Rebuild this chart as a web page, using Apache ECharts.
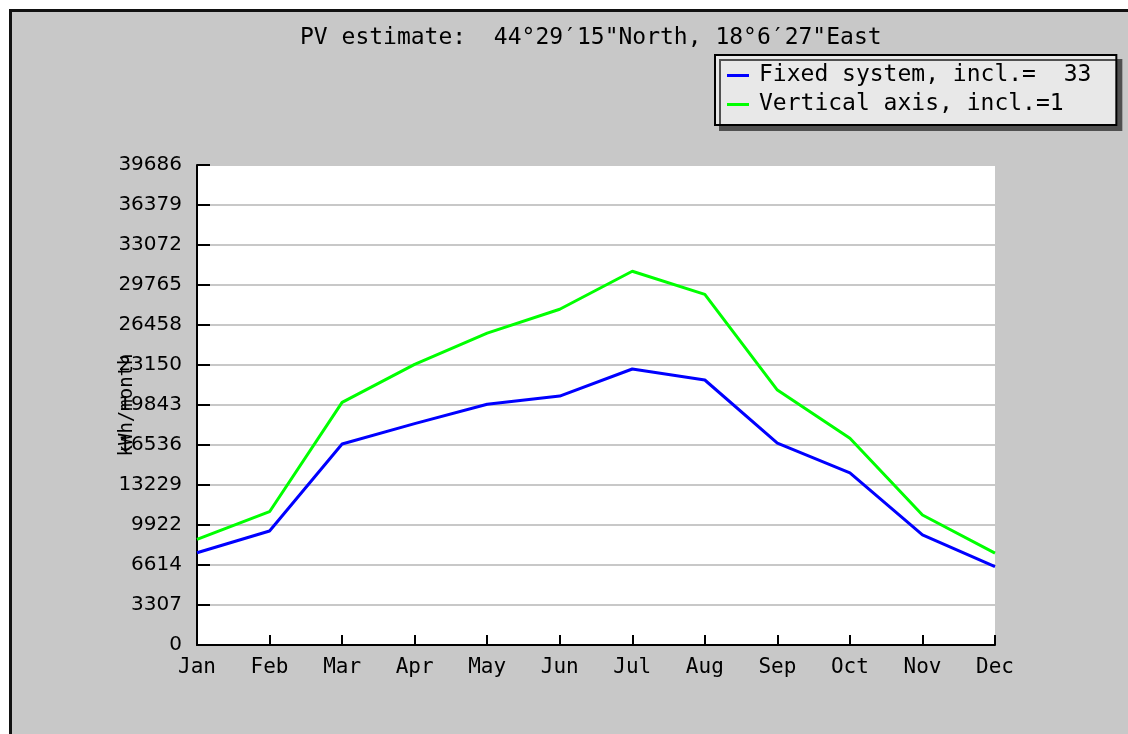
<!DOCTYPE html>
<html>
<head>
<meta charset="utf-8">
<script src="https://cdn.jsdelivr.net/npm/echarts@6/dist/echarts.min.js"></script>
<style>
html,body{margin:0;padding:0;background:#fff;}
#chart{width:1128px;height:734px;}
</style>
</head>
<body>
<div id="chart"></div>
<script>
const months = ['Jan','Feb','Mar','Apr','May','Jun','Jul','Aug','Sep','Oct','Nov','Dec'];
const fixedSystem = [7630, 9430, 16620, 18300, 19900, 20580, 22820, 21910, 16700, 14240, 9100, 6470];
const verticalAxis = [8740, 11020, 20060, 23200, 25780, 27760, 30900, 28990, 21080, 17100, 10750, 7590];
const yTickLabels = ['0','3307','6614','9922','13229','16536','19843','23150','26458','29765','33072','36379','39686'];
const yMax = 39686;
const titleText = 'PV estimate:  44°29′15"North, 18°6′27"East';
const seriesNames = ['Fixed system, incl.=  33', 'Vertical axis, incl.=1'];
const yAxisName = 'kWh/month';

const chart = echarts.init(document.getElementById('chart'), null, {renderer: 'canvas'});
const mono = 'DejaVu Sans Mono';
chart.setOption({
  backgroundColor: '#ffffff',
  animation: false,
  graphic: [{
    type: 'rect', z: -10, silent: true,
    shape: {x: 10.5, y: 10.5, width: 1200, height: 800},
    style: {fill: '#c8c8c8', stroke: '#111', lineWidth: 3}
  }],
  title: {
    text: titleText,
    left: 295, top: 22,
    textStyle: {fontFamily: mono, fontSize: 23, fontWeight: 'normal', color: '#000'}
  },
  legend: {
    orient: 'vertical',
    left: 715, top: 55,
    padding: [9, 25, 9, 12],
    itemGap: 6,
    itemWidth: 22, itemHeight: 3,
    icon: 'rect',
    backgroundColor: '#e8e8e8',
    borderColor: '#000', borderWidth: 2, borderRadius: 0,
    shadowColor: '#505050', shadowBlur: 0, shadowOffsetX: 5, shadowOffsetY: 5,
    textStyle: {fontFamily: mono, fontSize: 23, color: '#000', padding: [0, 0, 0, 5]},
    data: seriesNames
  },
  grid: {
    left: 197, right: 133, top: 165, bottom: 89,
    show: true, backgroundColor: '#ffffff', borderWidth: 0
  },
  xAxis: {
    type: 'category',
    data: months,
    boundaryGap: false,
    axisLine: {lineStyle: {color: '#000', width: 2}},
    axisTick: {inside: true, length: 10, alignWithLabel: true, lineStyle: {color: '#000', width: 2}},
    axisLabel: {fontFamily: mono, fontSize: 21, color: '#000', margin: 12, interval: 0},
    splitLine: {show: false}
  },
  yAxis: {
    type: 'value',
    min: 0, max: yMax, interval: yMax / 12,
    name: yAxisName,
    nameLocation: 'middle', nameRotate: 90, nameGap: 60,
    nameMoveOverlap: false,
    nameTextStyle: {fontFamily: mono, fontSize: 19, color: '#000'},
    axisLine: {show: true, lineStyle: {color: '#000', width: 2}},
    axisTick: {show: true, inside: true, length: 13, lineStyle: {color: '#000', width: 2}},
    axisLabel: {
      fontFamily: 'DejaVu Sans', fontSize: 20, color: '#000', margin: 15,
      formatter: function (v, i) { return yTickLabels[i] !== undefined ? yTickLabels[i] : ''; }
    },
    splitLine: {show: true, lineStyle: {color: '#c8c8c8', width: 2}}
  },
  series: [{
    name: seriesNames[0], type: 'line', data: fixedSystem,
    showSymbol: false, symbol: 'none',
    lineStyle: {color: '#0000ff', width: 3}, itemStyle: {color: '#0000ff'}
  }, {
    name: seriesNames[1], type: 'line', data: verticalAxis,
    showSymbol: false, symbol: 'none',
    lineStyle: {color: '#00ff00', width: 3}, itemStyle: {color: '#00ff00'}
  }]
});
</script>
</body>
</html>
